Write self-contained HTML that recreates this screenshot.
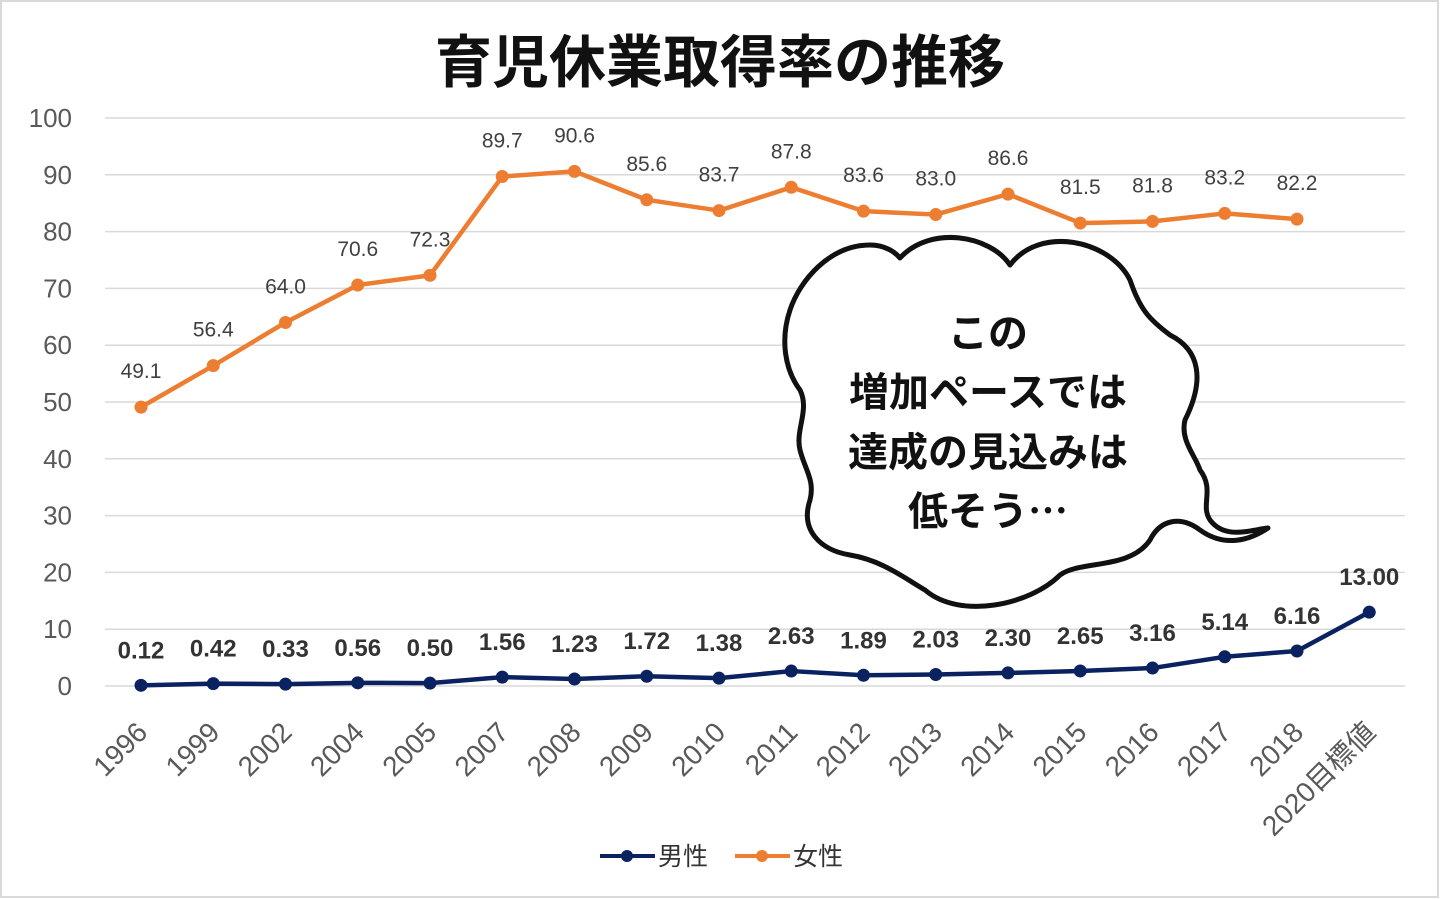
<!DOCTYPE html>
<html><head><meta charset="utf-8"><style>
html,body{margin:0;padding:0;background:#fff;}
svg{display:block;font-family:"Liberation Sans","Noto Sans CJK JP",sans-serif;}
</style></head><body>
<svg id="c" width="1440" height="899" viewBox="0 0 1440 899" xmlns="http://www.w3.org/2000/svg">
<rect x="1" y="1" width="1437" height="896" fill="#fff" stroke="#d9d9d9" stroke-width="2"/>
<text x="720" y="82" text-anchor="middle" font-size="57" font-weight="bold" fill="#111" font-family="'Noto Sans CJK JP',sans-serif">育児休業取得率の推移</text>
<g id="grid"></g>
<g id="series"></g>
<path d="M900,258 C930,225 990,235 1010,265 C1040,225 1110,240 1130,280 C1140,310 1150,320 1170,335 C1200,350 1205,380 1185,420 C1180,440 1195,455 1200,470 C1215,490 1200,505 1210,520 C1225,540 1250,530 1268,528 C1250,540 1225,548 1200,530 C1180,515 1160,520 1150,540 C1130,570 1080,560 1060,575 C1030,605 960,620 925,590 C900,575 880,560 850,555 C820,550 800,530 810,500 C815,480 805,470 800,450 C795,430 810,410 800,390 C785,370 780,340 790,310 C800,280 830,245 870,245 C885,245 895,252 900,258 Z" fill="#fff" stroke="#111" stroke-width="5" stroke-linejoin="round"/>
<g font-family="'Noto Sans CJK JP',sans-serif" font-weight="bold" font-size="40" fill="#111" text-anchor="middle">
<text x="988" y="347">この</text>
<text x="988" y="406">増加ペースでは</text>
<text x="988" y="466">達成の見込みは</text>
<text x="988" y="525">低そう…</text>
</g>
<g font-size="25" fill="#333">
<line x1="600" y1="856" x2="655" y2="856" stroke="#0b2260" stroke-width="4"/><circle cx="627" cy="856" r="6" fill="#0b2260"/>
<text x="658" y="865" font-family="'Noto Sans CJK JP',sans-serif">男性</text>
<line x1="735" y1="856" x2="790" y2="856" stroke="#ed7d31" stroke-width="4"/><circle cx="762" cy="856" r="6" fill="#ed7d31"/>
<text x="793" y="865" font-family="'Noto Sans CJK JP',sans-serif">女性</text>
</g>
</svg>
<script>
var NS="http://www.w3.org/2000/svg";
function el(t,a,txt){var e=document.createElementNS(NS,t);for(var k in a)e.setAttribute(k,a[k]);if(txt!==undefined)e.textContent=txt;return e;}
var g=document.getElementById('grid'),s=document.getElementById('series');
function Y(v){return 686-v*5.68;}
function X(i){return 141+i*72.25;}
for(var v=0;v<=100;v+=10){
 g.appendChild(el('line',{x1:105,x2:1405,y1:Y(v),y2:Y(v),stroke:'#d9d9d9','stroke-width':1.5}));
 g.appendChild(el('text',{x:72,y:Y(v)+9,'text-anchor':'end','font-size':26,fill:'#595959'},String(v)));
}
var yrs=['1996','1999','2002','2004','2005','2007','2008','2009','2010','2011','2012','2013','2014','2015','2016','2017','2018','2020目標値'];
yrs.forEach(function(y,i){
 var x=X(i)+8,yy=734;
 g.appendChild(el('text',{x:x,y:yy,'text-anchor':'end','font-size':28,fill:'#595959',transform:'rotate(-45 '+x+' '+yy+')','font-family':"'Liberation Sans','Noto Sans CJK JP',sans-serif"},y));
});
var w=[49.1,56.4,64.0,70.6,72.3,89.7,90.6,85.6,83.7,87.8,83.6,83.0,86.6,81.5,81.8,83.2,82.2];
var m=[0.12,0.42,0.33,0.56,0.50,1.56,1.23,1.72,1.38,2.63,1.89,2.03,2.30,2.65,3.16,5.14,6.16,13.00];
function line(d,col){
 var p=d.map(function(v,i){return X(i)+','+Y(v);}).join(' ');
 s.appendChild(el('polyline',{points:p,fill:'none',stroke:col,'stroke-width':4.5,'stroke-linejoin':'round'}));
 d.forEach(function(v,i){s.appendChild(el('circle',{cx:X(i),cy:Y(v),r:6.5,fill:col}));});
}
line(w,'#ed7d31');line(m,'#0b2260');
w.forEach(function(v,i){s.appendChild(el('text',{x:X(i),y:Y(v)-29,'text-anchor':'middle','font-size':21,fill:'#404040'},v.toFixed(1)));});
m.forEach(function(v,i){s.appendChild(el('text',{x:X(i),y:Y(v)-27,'text-anchor':'middle','font-size':24,'font-weight':'bold',fill:'#333'},v.toFixed(2)));});
</script>
</body></html>
